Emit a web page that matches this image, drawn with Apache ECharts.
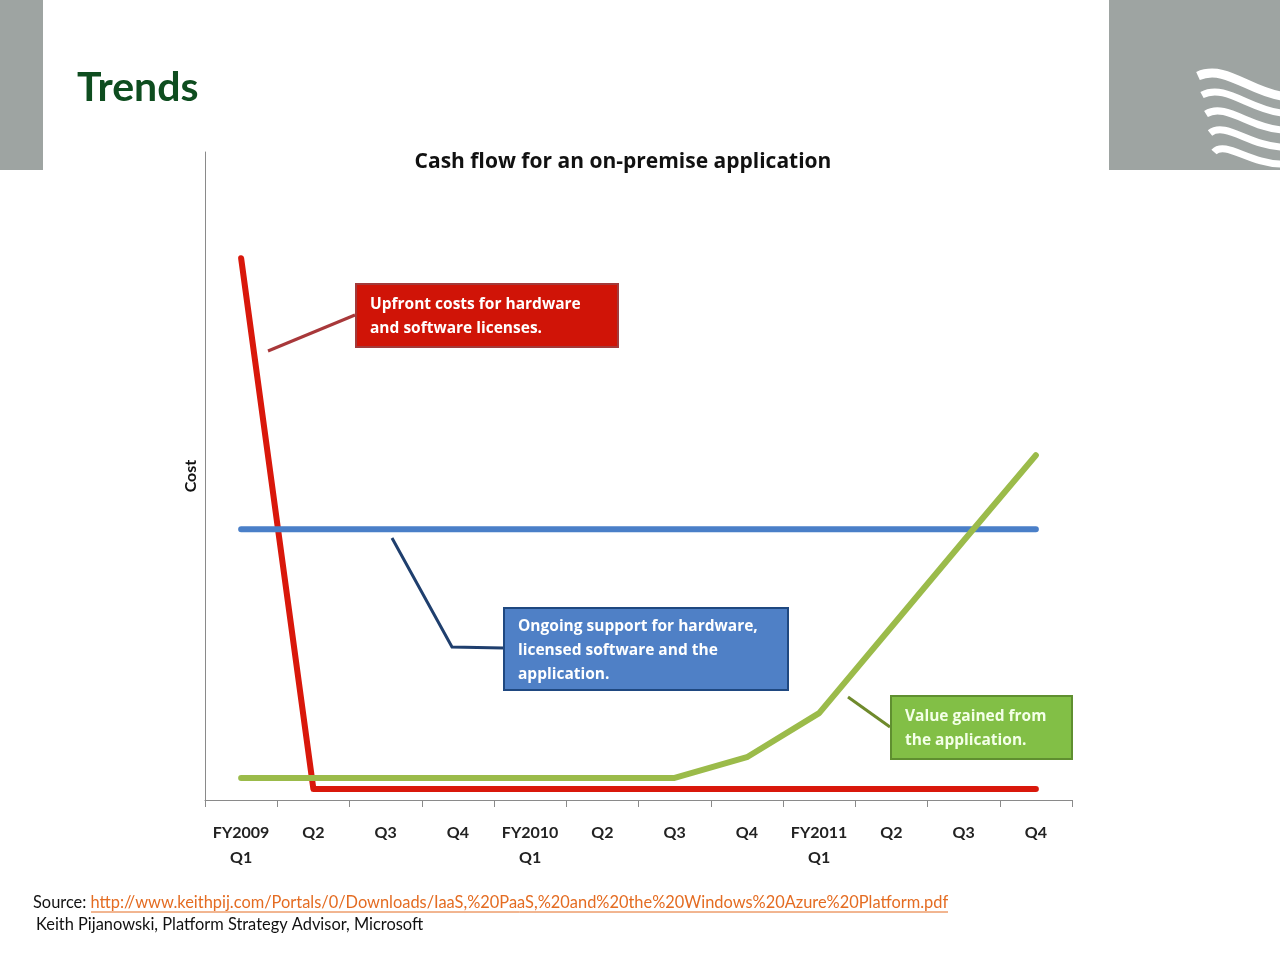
<!DOCTYPE html>
<html>
<head>
<meta charset="utf-8">
<script src="https://cdn.jsdelivr.net/npm/echarts@6/dist/echarts.min.js"></script>
<style>
  html, body { margin: 0; padding: 0; background: #fff; }
  #chart { width: 1280px; height: 960px; }
</style>
</head>
<body>
<div id="chart"></div>
<script>
// 季度分类
const quarters = ['FY2009\nQ1', 'Q2', 'Q3', 'Q4', 'FY2010\nQ1', 'Q2', 'Q3', 'Q4', 'FY2011\nQ1', 'Q2', 'Q3', 'Q4'];
// 前期投入（红）
const upfront = [83.6, 1.7, 1.7, 1.7, 1.7, 1.7, 1.7, 1.7, 1.7, 1.7, 1.7, 1.7];
// 持续支持（蓝）
const support = [41.8, 41.8, 41.8, 41.8, 41.8, 41.8, 41.8, 41.8, 41.8, 41.8, 41.8, 41.8];
// 应用价值（绿）
const value = [3.4, 3.4, 3.4, 3.4, 3.4, 3.4, 3.4, 6.6, 13.4, 26.7, 40.0, 53.2];

const FONT = 'Lato, "Open Sans", sans-serif';
const WIDE = '"Open Sans", Lato, sans-serif';
const chart = echarts.init(document.getElementById('chart'));

// 右上角的波浪图标
const waves = [0, 1, 2, 3, 4].map(i => ({
  type: 'bezierCurve',
  shape: {
    x1: 1198 + i * 4, y1: 76 + i * 19,
    cpx1: 1225, cpy1: 64 + i * 19,
    cpx2: 1250, cpy2: 92 + i * 18,
    x2: 1282, y2: 96 + i * 17,
  },
  style: { stroke: '#fff', lineWidth: i === 0 ? 9 : 7, fill: null },
  z: 2,
}));

const option = {
  backgroundColor: '#fff',
  animation: false,
  title: {
    text: 'Cash flow for an on-premise application',
    left: 618,
    textAlign: 'center',
    top: 147,
    textStyle: { fontFamily: WIDE, fontSize: 21, fontWeight: 'bold', color: '#111' },
  },
  grid: { left: 205, right: 208, top: 152, bottom: 160 },
  xAxis: {
    type: 'category',
    data: quarters,
    boundaryGap: true,
    axisLine: { lineStyle: { color: '#8a8a8a', width: 1 } },
    axisTick: { show: true, length: 7, interval: 0, lineStyle: { color: '#8a8a8a' } },
    axisLabel: {
      interval: 0,
      margin: 20,
      lineHeight: 25,
      fontFamily: FONT,
      fontSize: 16,
      fontWeight: 'bold',
      color: '#222',
    },
  },
  yAxis: {
    type: 'value',
    min: 0,
    max: 100,
    name: 'Cost',
    nameLocation: 'middle',
    nameGap: 6,
    nameRotate: 90,
    nameTextStyle: { fontFamily: FONT, fontSize: 16, fontWeight: 'bold', color: '#111' },
    axisLine: { show: true, lineStyle: { color: '#8a8a8a', width: 1 } },
    axisTick: { show: false },
    axisLabel: { show: false },
    splitLine: { show: false },
  },
  series: [
    {
      name: 'Upfront',
      type: 'line',
      data: upfront,
      symbol: 'none',
      lineStyle: { color: '#d9180b', width: 6, cap: 'round', join: 'round' },
      z: 2,
    },
    {
      name: 'Support',
      type: 'line',
      data: support,
      symbol: 'none',
      lineStyle: { color: '#4a7fc8', width: 6, cap: 'round' },
      z: 3,
    },
    {
      name: 'Value',
      type: 'line',
      data: value,
      symbol: 'none',
      lineStyle: { color: '#9bbb4a', width: 6, cap: 'round', join: 'round' },
      z: 4,
    },
  ],
  graphic: [
    // 左上灰条
    { type: 'rect', shape: { x: 0, y: 0, width: 43, height: 170 }, style: { fill: '#9ea4a2' } },
    // 右上灰块
    { type: 'rect', shape: { x: 1109, y: 0, width: 171, height: 170 }, style: { fill: '#9ea4a2' } },
    ...waves,
    // 页面标题
    {
      type: 'text', left: 77, top: 67,
      style: { text: 'Trends', font: 'bold 41px ' + FONT, fill: '#0e4d1f' },
    },
    // 红色说明框
    { type: 'line', shape: { x1: 268, y1: 351, x2: 355, y2: 315 }, style: { stroke: '#a8383a', lineWidth: 3 } },
    {
      type: 'rect', shape: { x: 356, y: 284, width: 262, height: 63 },
      style: { fill: '#d01407', stroke: '#a33a3a', lineWidth: 2 },
    },
    {
      type: 'text', x: 370, y: 293,
      style: { text: 'Upfront costs for hardware\nand software licenses.', font: 'bold 15.5px ' + WIDE, fill: '#fff', lineHeight: 24 },
    },
    // 蓝色说明框
    {
      type: 'polyline', shape: { points: [[392, 538], [452, 647], [503, 648]] },
      style: { stroke: '#1f3f6e', lineWidth: 3, fill: null },
    },
    {
      type: 'rect', shape: { x: 504, y: 608, width: 284, height: 82 },
      style: { fill: '#4f80c6', stroke: '#1f4880', lineWidth: 2 },
    },
    {
      type: 'text', x: 518, y: 615,
      style: { text: 'Ongoing support for hardware,\nlicensed software and the\napplication.', font: 'bold 15.5px ' + WIDE, fill: '#fff', lineHeight: 24 },
    },
    // 绿色说明框
    { type: 'line', shape: { x1: 848, y1: 697, x2: 890, y2: 727 }, style: { stroke: '#6f8a2c', lineWidth: 3 } },
    {
      type: 'rect', shape: { x: 891, y: 696, width: 181, height: 63 },
      style: { fill: '#82bf46', stroke: '#5f8f30', lineWidth: 2 },
    },
    {
      type: 'text', x: 905, y: 705,
      style: { text: 'Value gained from\nthe application.', font: 'bold 15.5px ' + WIDE, fill: '#f4ffe8', lineHeight: 24 },
    },
    // 来源
    {
      type: 'text', x: 33, y: 895,
      style: {
        text: '{a|Source: }{b|http://www.keithpij.com/Portals/0/Downloads/IaaS,%20PaaS,%20and%20the%20Windows%20Azure%20Platform.pdf}',
        rich: {
          a: { font: '16.4px ' + FONT, fill: '#111' },
          b: { font: '16.4px ' + FONT, fill: '#e46c22' },
        },
      },
    },
    { type: 'line', shape: { x1: 91, y1: 912, x2: 948, y2: 912 }, style: { stroke: '#e46c22', lineWidth: 1 } },
    {
      type: 'text', x: 36, y: 917,
      style: { text: 'Keith Pijanowski, Platform Strategy Advisor, Microsoft', font: '16.4px ' + FONT, fill: '#111' },
    },
  ],
};

chart.setOption(option);
window.addEventListener('resize', () => chart.resize());
</script>
</body>
</html>
